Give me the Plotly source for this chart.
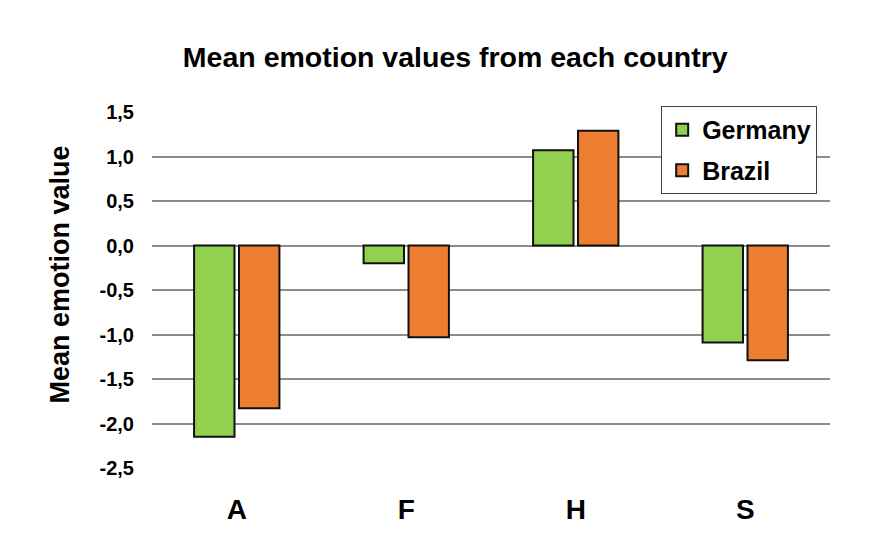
import plotly.graph_objects as go

categories = ["A", "F", "H", "S"]
germany = [-2.15, -0.20, 1.07, -1.09]
brazil = [-1.83, -1.03, 1.29, -1.29]
y_ticks = [1.5, 1.0, 0.5, 0.0, -0.5, -1.0, -1.5, -2.0, -2.5]
y_tick_labels = ["1,5", "1,0", "0,5", "0,0", "-0,5", "-1,0", "-1,5", "-2,0", "-2,5"]

font_family = "Liberation Sans, Arial, sans-serif"

fig = go.Figure()
fig.add_trace(go.Bar(name="<b>Germany</b>", x=categories, y=germany, legendgroup="g",
                     marker=dict(color="#92D050", line=dict(color="#111111", width=2))))
fig.add_trace(go.Bar(name="<b>Brazil</b>", x=categories, y=brazil, legendgroup="b",
                     marker=dict(color="#ED7D31", line=dict(color="#111111", width=2))))

fig.update_layout(
    width=877, height=544,
    margin=dict(l=144, r=55, t=104, b=84),
    paper_bgcolor="white", plot_bgcolor="white",
    barmode="group", bargap=0.47, bargroupgap=0.1,
    font=dict(family=font_family, color="black"),
    title=dict(text="<b>Mean emotion values from each country</b>",
               x=0.510, xanchor="center", y=0.909, yanchor="middle",
               font=dict(size=28.5, family=font_family)),
    legend=dict(x=0.751, y=1.017, xanchor="left", yanchor="top",
                bgcolor="white", bordercolor="#444444", borderwidth=1,
                font=dict(size=25, family=font_family),
                tracegroupgap=5, itemwidth=30),
    showlegend=True,
    annotations=[dict(text="<b>Mean emotion value</b>", xref="paper", yref="paper",
                      x=0, y=0.5435, xshift=-92, xanchor="center", yanchor="middle",
                      textangle=-90, showarrow=False,
                      font=dict(size=27, family=font_family, color="black"))],
)
fig.update_xaxes(showgrid=False, showline=False, ticks="",
                 tickfont=dict(size=28, family=font_family),
                 ticklabelstandoff=22,
                 tickvals=categories, ticktext=[f"<b>{c}</b>" for c in categories])
fig.update_yaxes(range=[-2.5, 1.5], tickvals=y_ticks, ticktext=[f"<b>{t}</b>" for t in y_tick_labels],
                 tickfont=dict(size=20, family=font_family),
                 showgrid=True, gridcolor="#8c8c8c", gridwidth=2,
                 zeroline=True, zerolinecolor="#8c8c8c", zerolinewidth=2,
                 showline=False, ticks="", ticklabelstandoff=17)

fig.write_html("out.html")
